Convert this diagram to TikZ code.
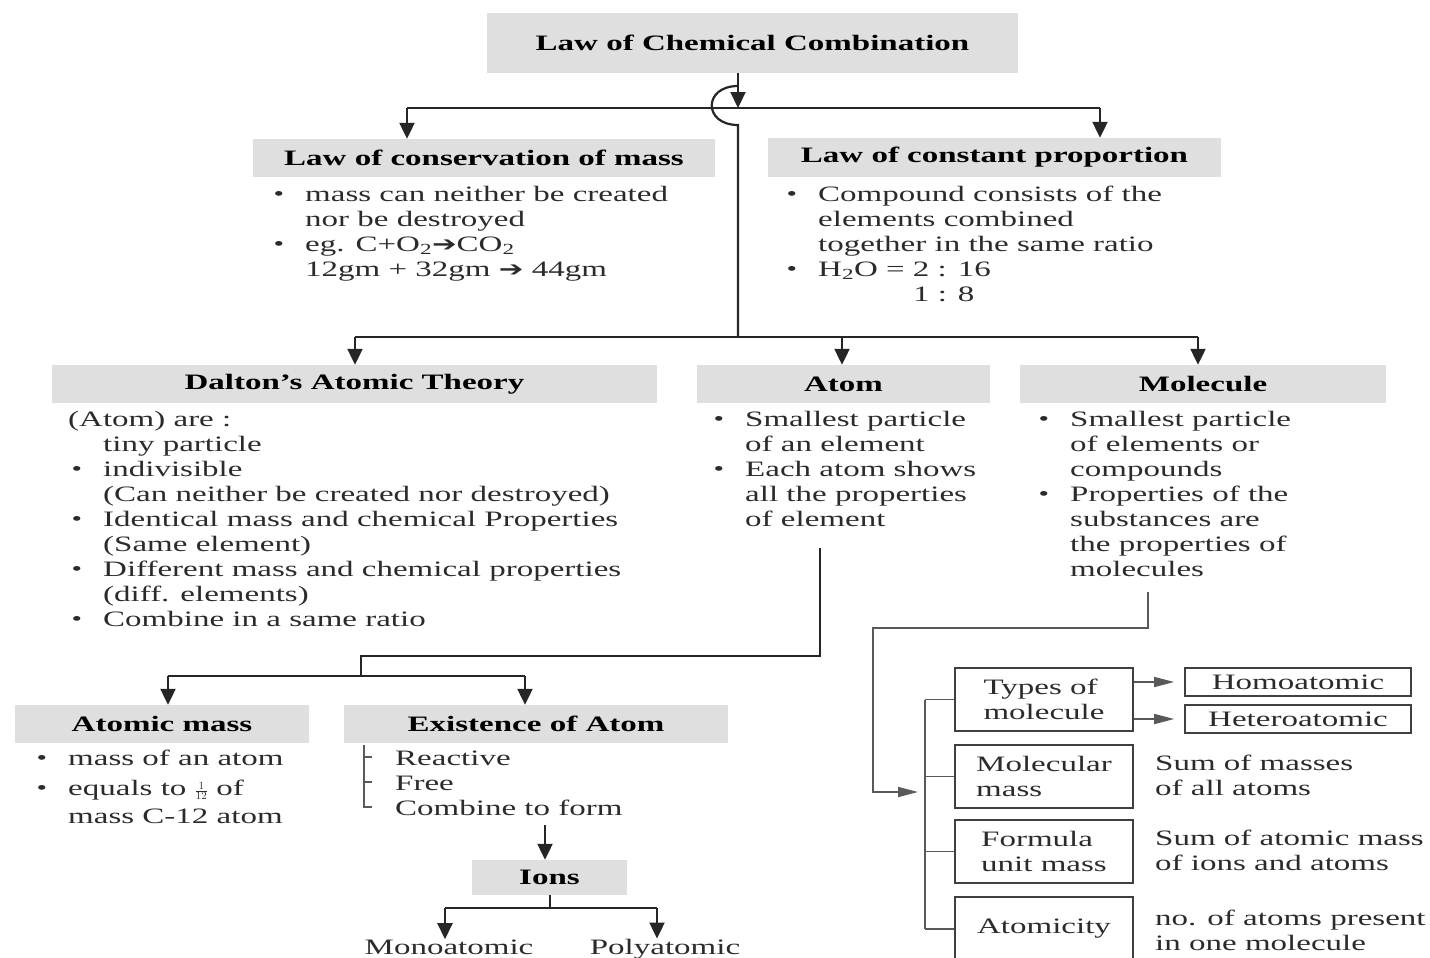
\documentclass[tikz,border=0pt]{standalone}
\usepackage{fontspec}
\setmainfont{Liberation Serif}[FakeStretch=1.5]
\newfontfamily\arrfont{DejaVu Sans}[FakeStretch=1.4]
\usetikzlibrary{arrows.meta}
\definecolor{hdr}{HTML}{DFDFE0}
\definecolor{ink}{HTML}{2B2B2B}
\newcommand\myfs{\fontsize{22}{25}\selectfont}
\newcommand\bul{\llap{\raisebox{0.5pt}{\fontsize{20}{20}\selectfont\textbullet}\hspace{21pt}}}
\newcommand\tb[1]{\begin{tabular}[t]{@{}l@{}}#1\end{tabular}}
\newcommand\harr{{\arrfont\fontsize{21}{21}\selectfont ➔}}
\begin{document}
\begin{tikzpicture}[x=1pt,y=-1pt,
  hbox/.style={fill=hdr, inner sep=0pt, font=\myfs\bfseries, text=black},
  txt/.style={anchor=base west, inner sep=0pt, font=\myfs, text=ink},
  conn/.style={line width=2.2pt, draw=black!85},
  arr/.style={conn, -{Triangle[length=16pt,width=15pt]}},
  wbox/.style={draw=black!75, line width=1.6pt, inner sep=0pt, font=\myfs, text=ink, align=left, minimum width=178pt, minimum height=63pt},
  thinl/.style={line width=1.5pt, draw=black!65},
  sarr/.style={thinl, -{Triangle[length=20pt,width=10pt]}}
]
\useasboundingbox (0,0) rectangle (1430,958);

% header boxes
\node[hbox, minimum width=531pt, minimum height=60pt] (top) at (752.5,43) {Law of Chemical Combination};
\node[hbox, minimum width=462pt, minimum height=38pt] (cons) at (484,158) {Law of conservation of mass};
\node[hbox, minimum width=453pt, minimum height=39pt] (const) at (994.5,157.5) {Law of constant proportion};
\node[hbox, minimum width=605pt, minimum height=38pt] (dal) at (354.5,384) {Dalton’s Atomic Theory};
\node[hbox, minimum width=293pt, minimum height=38pt] (atom) at (843.5,384) {Atom};
\node[hbox, minimum width=366pt, minimum height=38pt] (mol) at (1203,384) {Molecule};
\node[hbox, minimum width=294pt, minimum height=38pt] (amass) at (162,724) {Atomic mass};
\node[hbox, minimum width=384pt, minimum height=38pt] (exist) at (536,724) {Existence of Atom};
\node[hbox, minimum width=155pt, minimum height=35pt] (ions) at (549.5,877.5) {Ions};

% text blocks
\node[txt] (consT) at (305,201) {\tb{\bul mass can neither be created\\ nor be destroyed\\ \bul eg. C+O\textsubscript{2}\harr CO\textsubscript{2}\\ 12gm + 32gm \harr\ 44gm}};
\node[txt] (constT) at (818,201) {\tb{\bul Compound consists of the\\ elements combined\\ together in the same ratio\\ \bul H\textsubscript{2}O = 2 : 16\\ \phantom{H\textsubscript{2}O = }1 : 8}};
\node[txt] (dalA) at (68,426) {(Atom) are :};
\node[txt] (dalT) at (103,451) {\tb{tiny particle\\ \bul indivisible\\ (Can neither be created nor destroyed)\\ \bul Identical mass and chemical Properties\\ (Same element)\\ \bul Different mass and chemical properties\\ (diff. elements)\\ \bul Combine in a same ratio}};
\node[txt] (atomT) at (745,426) {\tb{\bul Smallest particle\\ of an element\\ \bul Each atom shows\\ all the properties\\ of element}};
\node[txt] (molT) at (1070,426) {\tb{\bul Smallest particle\\ of elements or\\ compounds\\ \bul Properties of the\\ substances are\\ the properties of\\ molecules}};
\node[txt] (amT) at (68,765) {\tb{\bul mass of an atom\\[5pt] \bul equals to $\scriptstyle\frac{1}{12}$ of\\[3pt] mass C-12 atom}};
\node[txt] (exT) at (395,765) {\tb{Reactive\\ Free\\ Combine to form}};
\node[txt, anchor=base] (mono) at (449,954) {Monoatomic};
\node[txt, anchor=base] (poly) at (665,954) {Polyatomic};

% right side boxes
\node[wbox] (types) at (1044,699.5) {Types of\\ molecule};
\node[wbox] (mmass) at (1044,776.5) {Molecular\\ mass};
\node[wbox] (fmass) at (1044,851.5) {Formula\\ unit mass};
\node[wbox, minimum height=64pt] (atcy) at (1044,929) {Atomicity};
\node[wbox, minimum width=226pt, minimum height=28pt, align=center] (homo) at (1298,682) {Homoatomic};
\node[wbox, minimum width=226pt, minimum height=28pt, align=center] (hetero) at (1298,719) {Heteroatomic};
\node[txt] (mmT) at (1155,770) {\tb{Sum of masses\\ of all atoms}};
\node[txt] (fmT) at (1155,845) {\tb{Sum of atomic mass\\ of ions and atoms}};
\node[txt] (atT) at (1155,925) {\tb{no. of atoms present\\ in one molecule}};

% top connectors
\coordinate (j0) at (738,108);
\coordinate (hL) at (407,108);
\coordinate (hR) at (1100,108);
\coordinate (hopA) at (738,86);
\coordinate (hopB) at (738,125);
\coordinate (j1) at (738,337);
\draw[arr] (top.south -| j0) -- (j0);
\draw[conn] (hL) -- (hR);
\draw[arr] (hL) -- (hL |- cons.north);
\draw[arr] (hR) -- (hR |- const.north);
\draw[conn] (hopA) .. controls (703,86) and (703,125) .. (hopB) -- (j1);

% second level
\coordinate (d1) at (355,337);
\coordinate (a1) at (842,337);
\coordinate (m1) at (1198,337);
\draw[conn] (d1) -- (m1);
\draw[arr] (d1) -- (d1 |- dal.north);
\draw[arr] (a1) -- (a1 |- atom.north);
\draw[arr] (m1) -- (m1 |- mol.north);

% atom branch
\coordinate (aD) at (820,548);
\coordinate (aE) at (361,656);
\coordinate (aF) at (361,676);
\coordinate (amL) at (168,676);
\coordinate (exR) at (525,676);
\draw[conn] (aD) |- (aE) -- (aF);
\draw[conn] (amL) -- (exR);
\draw[arr] (amL) -- (amL |- amass.north);
\draw[arr] (exR) -- (exR |- exist.north);

% existence bracket
\draw[thinl] (364,745) -- (364,807) -- (372,807);
\draw[thinl] (364,757) -- (372,757);
\draw[thinl] (364,782) -- (372,782);
\coordinate (cf) at (545,825);
\draw[arr] (cf) -- (cf |- ions.north);
\coordinate (iS) at (550,908);
\coordinate (iL) at (445,908);
\coordinate (iR) at (657,908);
\draw[conn] (ions.south -| iS) -- (iS);
\draw[conn] (iL) -- (iR);
\draw[arr] (iL) -- (iL |- mono.north);
\draw[arr] (iR) -- (iR |- poly.north);

% molecule branch
\coordinate (mD) at (1148,592);
\coordinate (mE) at (873,628);
\coordinate (mF) at (918,792);
\draw[sarr] (mD) |- (mE) |- (mF);
\coordinate (br) at (925,700);
\draw[thinl] (br |- types.west) -- (br |- atcy.west);
\draw[thinl] (br |- types.west) -- (types.west);
\draw[thinl] (br |- mmass.west) -- (mmass.west);
\draw[thinl] (br |- fmass.west) -- (fmass.west);
\draw[thinl] (br |- atcy.west) -- (atcy.west);
\draw[sarr, shorten >=10pt] (types.east |- homo.west) -- (homo.west);
\draw[sarr, shorten >=10pt] (types.east |- hetero.west) -- (hetero.west);
\end{tikzpicture}
\end{document}
